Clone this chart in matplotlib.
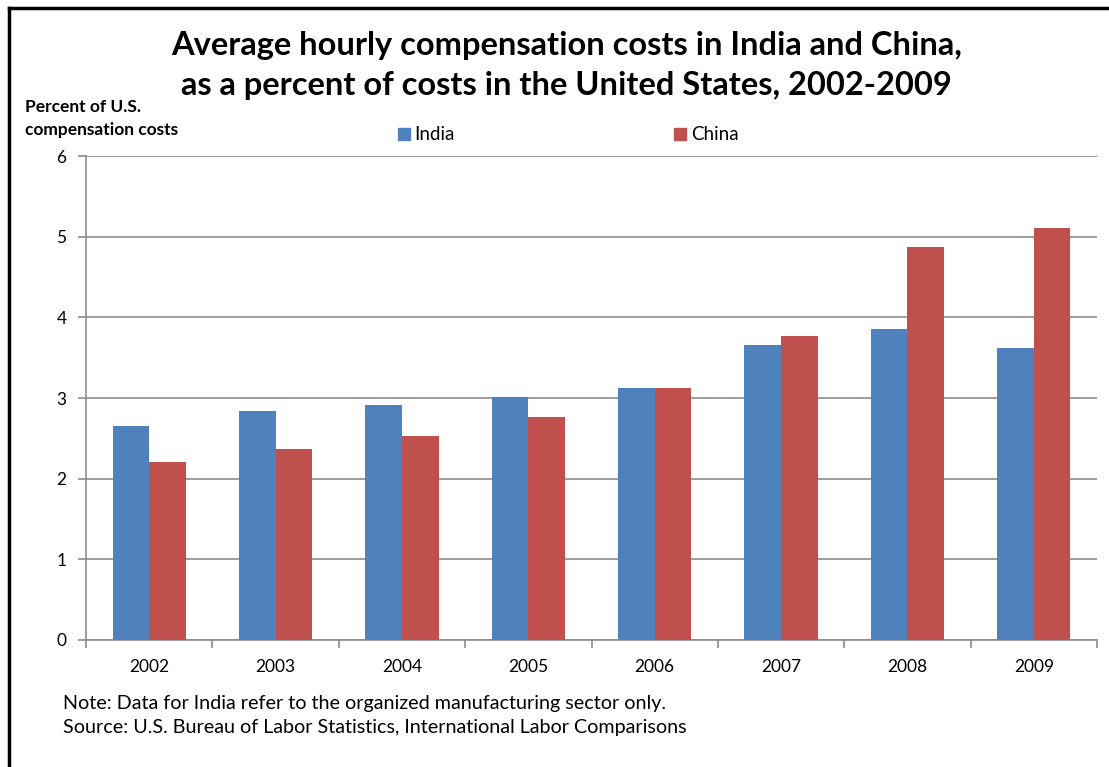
import numpy as np
import matplotlib.pyplot as plt
from matplotlib.lines import Line2D

years = ["2002", "2003", "2004", "2005", "2006", "2007", "2008", "2009"]
india = [2.65, 2.84, 2.91, 3.01, 3.12, 3.66, 3.86, 3.62]
china = [2.21, 2.37, 2.53, 2.76, 3.12, 3.77, 4.87, 5.11]

blue = "#4F81BD"
red = "#C0504D"
grey = "#8C8C8C"

plt.rcParams["font.family"] = ["Lato", "DejaVu Sans"]

fig = plt.figure(figsize=(11.09, 7.67), dpi=100)
ax = fig.add_axes([86 / 1109, 1 - 640 / 767, (1097 - 86) / 1109, (640 - 156) / 767])

x = np.arange(len(years))
w = 0.29
ax.bar(x - w / 2, india, w, color=blue, zorder=3)
ax.bar(x + w / 2, china, w, color=red, zorder=3)

ax.set_xlim(-0.5, len(years) - 0.5)
ax.set_ylim(0, 6)
ax.set_yticks(range(7))
ax.yaxis.grid(True, color=grey, linewidth=1.2, zorder=0)
ax.set_xticks(x)
ax.set_xticklabels(years)
ax.set_xticks(np.arange(-0.5, len(years)), minor=True)
ax.tick_params(axis="x", which="major", length=0, pad=14, labelsize=12.5)
ax.tick_params(axis="x", which="minor", length=6, color=grey, width=1.2)
ax.tick_params(axis="y", length=6, color=grey, width=1.2, labelsize=12.5, pad=8)

for s in ["top", "right"]:
    ax.spines[s].set_visible(False)
for s in ["left", "bottom"]:
    ax.spines[s].set_color(grey)
    ax.spines[s].set_linewidth(1.2)

fig.text(0.511, 1 - 45 / 767, "Average hourly compensation costs in India and China,",
         ha="center", va="center", fontsize=23.5, fontweight="bold")
fig.text(0.511, 1 - 86 / 767, "as a percent of costs in the United States, 2002-2009",
         ha="center", va="center", fontsize=23.5, fontweight="bold")
fig.text(25 / 1109, 1 - 107 / 767, "Percent of U.S.", ha="left", va="center",
         fontsize=12.5, fontweight="bold")
fig.text(25 / 1109, 1 - 130 / 767, "compensation costs", ha="left", va="center",
         fontsize=12.5, fontweight="bold")

handles = [Line2D([], [], marker="s", linestyle="none", color=blue, markersize=9),
           Line2D([], [], marker="s", linestyle="none", color=red, markersize=9)]
for h, label, px in zip(handles, ["India", "China"], [398, 674]):
    fig.legend([h], [label], loc="center left", bbox_to_anchor=(px / 1109 - 0.001, 1 - 135 / 767),
               frameon=False, fontsize=13.5, handlelength=0.8, handletextpad=0.15,
               borderaxespad=0, borderpad=0)

fig.text(63 / 1109, 1 - 703 / 767, "Note: Data for India refer to the organized manufacturing sector only.",
         ha="left", va="center", fontsize=14.2)
fig.text(63 / 1109, 1 - 727 / 767, "Source: U.S. Bureau of Labor Statistics, International Labor Comparisons",
         ha="left", va="center", fontsize=14.2)

fig.add_artist(Line2D([9 / 1109, 9 / 1109], [0, 1 - 8 / 767], color="black", linewidth=2.5))
fig.add_artist(Line2D([9 / 1109, 1], [1 - 8 / 767, 1 - 8 / 767], color="black", linewidth=2.5))

fig.savefig("out.png", dpi=100)
